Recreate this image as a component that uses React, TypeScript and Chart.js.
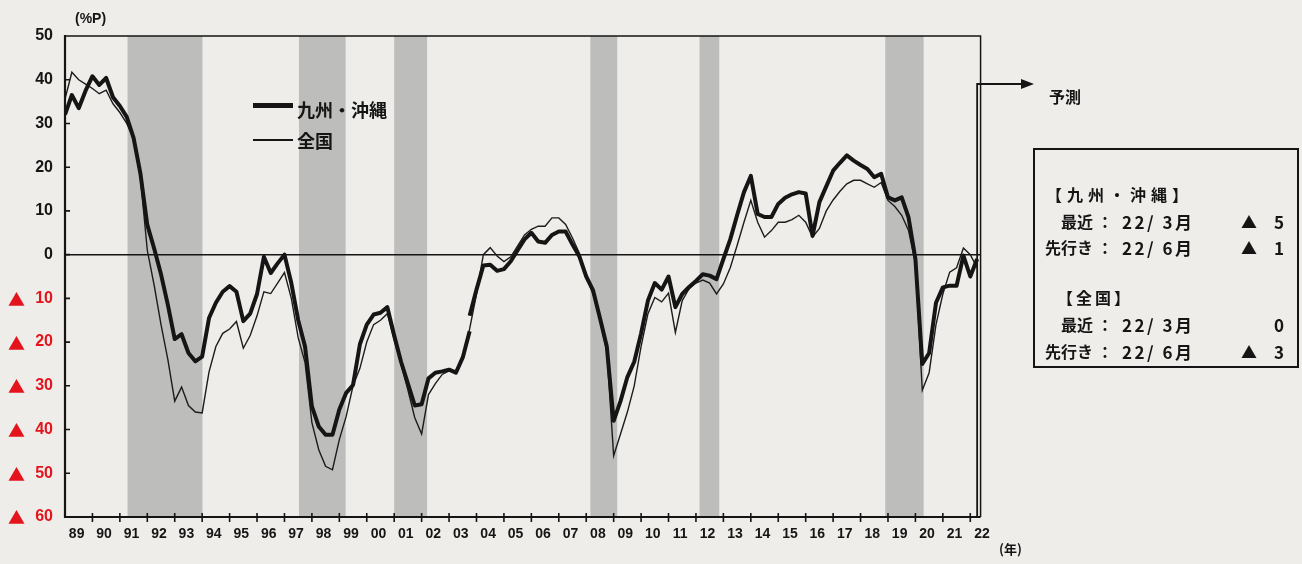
import React, { useEffect, useRef } from 'react';
import { Chart, registerables } from 'chart.js';

Chart.register(...registerables);

// ---- data (quarterly, 1989Q1 .. 2022Q2 forecast) ----
const yearLabels = [
  '89', '90', '91', '92', '93', '94', '95', '96', '97', '98', '99', '00',
  '01', '02', '03', '04', '05', '06', '07', '08', '09', '10', '11', '12',
  '13', '14', '15', '16', '17', '18', '19', '20', '21', '22',
];

// 九州・沖縄 (new basis from 2003Q4)
const kyushu = [
  32, 36.5, 33.5, 37.5,
  40.8, 38.8, 40.4, 36,
  34, 31.5, 26.7, 18.5,
  6.8, 1.4, -4.5, -11.5,
  -19.3, -18.2, -22.5, -24.4,
  -23.3, -14.5, -11, -8.5,
  -7.2, -8.5, -15.2, -13.5,
  -9, -0.5, -4.2, -2,
  0, -6.5, -15, -21,
  -34.7, -39.3, -41.2, -41.2,
  -35.4, -31.6, -29.8, -20.5,
  -16, -13.7, -13.3, -12,
  -18.5, -24.5, -29.5, -34.5,
  -34.2, -28.3, -27, -26.7,
  -26.3, -27, -23.5, -14,
  -8, -2.5, -2.3, -3.7,
  -3.3, -1.5, 1, 3.5,
  5, 3, 2.7, 4.5,
  5.3, 5.3, 2.3, -0.4,
  -5, -8.2, -14.5, -21,
  -38, -33.5, -28, -24.5,
  -18, -10.5, -6.5, -8,
  -5, -12, -9, -7.4,
  -6, -4.5, -4.8, -5.6,
  -1, 3.5, 9, 14.3,
  18, 9.3, 8.6, 8.6,
  11.6, 13, 13.8, 14.3,
  14, 4.3, 12, 15.6,
  19.2, 21, 22.7, 21.5,
  20.5, 19.6, 17.7, 18.5,
  13.1, 12.4, 13.1, 8.5,
  -1, -25, -22.5, -11,
  -7.5, -7.1, -7.1, -0.2,
  -5, -1,
];
const kyushuOldBasis2003Q4 = -17.5;
const basisBreakIndex = 59; // 2003Q4

// 全国
const zenkoku = [
  35.6, 41.7, 40, 39,
  38, 36.8, 37.6, 34.5,
  32.5, 30, 26.5, 17.5,
  1, -7, -16, -24,
  -33.5, -30.3, -34.5, -36,
  -36.2, -26.8, -21, -18,
  -17, -15.3, -21.4, -18.5,
  -14, -8.5, -8.9, -6.5,
  -4.1, -10, -19, -24.7,
  -38.4, -44.6, -48.4, -49.2,
  -42.3, -37, -30, -26,
  -20, -16, -15, -13.5,
  -19.5, -25, -31, -37.3,
  -41, -32, -29.5, -27.4,
  -26.6, -26.5, -23.5, -17,
  -9, 0, 1.6, -0.3,
  -1.6, -0.5, 2, 4.5,
  5.8, 6.5, 6.5, 8.4,
  8.4, 6.9, 3.8, 0.3,
  -5, -9, -15, -22,
  -46, -41, -36, -30,
  -21, -13.5, -9.8, -10.8,
  -8.8, -17.8, -10.5, -7.8,
  -6.5, -5.8, -6.5, -9,
  -6.7, -3, 2.1, 7.4,
  12.4, 7.4, 4, 5.5,
  7.4, 7.4, 8, 9,
  7.4, 4, 6, 10,
  12.5, 14.5, 16.2, 17,
  17, 16.2, 15.4, 16.5,
  12.4, 11, 9, 5.5,
  -2, -31, -27, -16,
  -9, -4, -3, 1.5,
  0, -3,
];

// recession periods (decimal years) shown as shaded bands
const recessions: [number, number][] = [
  [1991.28, 1994.01],
  [1997.53, 1999.23],
  [2001.0, 2002.2],
  [2008.15, 2009.13],
  [2012.13, 2012.85],
  [2018.9, 2020.3],
];

const forecastIndex = 133; // 2022Q2
const frameEnd = 133.5;

const boxSections = [
  {
    title: '【九州・沖縄】',
    rows: [
      { label: '最近', date: '22/ 3月', value: '▲5' },
      { label: '先行き', date: '22/ 6月', value: '▲1' },
    ],
  },
  {
    title: '【全国】',
    rows: [
      { label: '最近', date: '22/ 3月', value: '0' },
      { label: '先行き', date: '22/ 6月', value: '▲3' },
    ],
  },
];

const W = 1302;
const H = 564;
const BG = '#eeede9';
const BAND = '#bdbdbb';
const INK = '#151515';
const RED = '#e3141c';
const JP = "'Noto Sans CJK JP', 'Noto Sans', sans-serif";
const LAT = "'Liberation Sans', 'Noto Sans CJK JP', sans-serif";

const qx = (year: number) => (year - 1989) * 4;

const decor = {
  id: 'decor',
  beforeDatasetsDraw(chart: any) {
    const { ctx, chartArea: a, scales } = chart;
    const x = scales.x;
    const y = scales.y;
    const right = x.getPixelForValue(frameEnd);
    ctx.save();
    ctx.fillStyle = BAND;
    for (const [s, e] of recessions) {
      const x0 = x.getPixelForValue(qx(s));
      const x1 = x.getPixelForValue(qx(e));
      ctx.fillRect(x0, a.top, x1 - x0, a.bottom - a.top);
    }
    const y0 = y.getPixelForValue(0);
    ctx.strokeStyle = INK;
    ctx.lineWidth = 1.5;
    ctx.beginPath();
    ctx.moveTo(a.left, y0);
    ctx.lineTo(right, y0);
    ctx.stroke();
    ctx.restore();
  },
  afterDatasetsDraw(chart: any) {
    const { ctx, chartArea: a, scales } = chart;
    const x = scales.x;
    const y = scales.y;
    const right = x.getPixelForValue(frameEnd);
    ctx.save();
    ctx.strokeStyle = INK;
    // top and right frame
    ctx.lineWidth = 1.5;
    ctx.beginPath();
    ctx.moveTo(a.left, a.top);
    ctx.lineTo(right, a.top);
    ctx.lineTo(right, a.bottom);
    ctx.stroke();
    // axes
    ctx.lineWidth = 2.2;
    ctx.beginPath();
    ctx.moveTo(a.left, a.top - 1);
    ctx.lineTo(a.left, a.bottom);
    ctx.lineTo(right, a.bottom);
    ctx.stroke();
    // x year ticks
    ctx.lineWidth = 1.6;
    ctx.beginPath();
    for (let i = 1; i < yearLabels.length; i++) {
      const px = x.getPixelForValue(i * 4);
      ctx.moveTo(px, a.bottom - 4);
      ctx.lineTo(px, a.bottom + 5);
    }
    // y inward ticks
    for (let v = -50; v <= 40; v += 10) {
      const py = y.getPixelForValue(v);
      ctx.moveTo(a.left, py);
      ctx.lineTo(a.left + 5, py);
    }
    ctx.stroke();
    // forecast marker
    const fx = x.getPixelForValue(forecastIndex);
    const ay = a.top + 48;
    ctx.lineWidth = 1.8;
    ctx.beginPath();
    ctx.moveTo(fx, a.bottom);
    ctx.lineTo(fx, ay);
    ctx.lineTo(1022, ay);
    ctx.stroke();
    ctx.fillStyle = INK;
    ctx.beginPath();
    ctx.moveTo(1034, ay);
    ctx.lineTo(1021, ay - 5);
    ctx.lineTo(1021, ay + 5);
    ctx.closePath();
    ctx.fill();
    // "▲" marks for negative y tick labels
    ctx.fillStyle = RED;
    ctx.font = "bold 17px 'Noto Sans CJK JP', 'DejaVu Sans', sans-serif";
    ctx.textAlign = 'left';
    ctx.textBaseline = 'middle';
    for (const t of y.ticks) {
      if (t.value < 0) {
        ctx.fillText('▲', 8, y.getPixelForValue(t.value) + 1);
      }
    }
    ctx.restore();
  },
};

type TP = {
  x: number;
  y: number;
  size?: number;
  align?: 'left' | 'right';
  family?: string;
  ls?: number;
  children: React.ReactNode;
};

const T = ({ x, y, size = 16, align = 'left', family = JP, ls = 0, children }: TP) => (
  <div
    style={{
      position: 'absolute',
      top: y - size * 0.6,
      left: align === 'left' ? x : undefined,
      right: align === 'right' ? W - x : undefined,
      fontSize: size,
      lineHeight: `${size * 1.2}px`,
      fontWeight: 700,
      fontFamily: family,
      color: INK,
      whiteSpace: 'pre',
      letterSpacing: ls,
    }}
  >
    {children}
  </div>
);

export default function App() {
  const ref = useRef<HTMLCanvasElement | null>(null);

  useEffect(() => {
    if (!ref.current) return;
    const oldBasis = kyushu
      .slice(0, basisBreakIndex)
      .map((v, i) => ({ x: i, y: v }))
      .concat([{ x: basisBreakIndex, y: kyushuOldBasis2003Q4 }]);
    const newBasis = kyushu
      .map((v, i) => ({ x: i, y: v }))
      .filter((p) => p.x >= basisBreakIndex);
    const nat = zenkoku.map((v, i) => ({ x: i, y: v }));

    const thick = {
      borderColor: INK,
      borderWidth: 4,
      pointRadius: 0,
      tension: 0,
      borderJoinStyle: 'round' as const,
      fill: false,
    };

    const chart = new Chart(ref.current, {
      type: 'line',
      data: {
        datasets: [
          { label: '九州・沖縄', data: newBasis, ...thick },
          { label: '九州・沖縄(旧)', data: oldBasis, ...thick },
          {
            label: '全国',
            data: nat,
            borderColor: '#1c1c1c',
            borderWidth: 1.4,
            pointRadius: 0,
            tension: 0,
            fill: false,
          },
        ],
      },
      options: {
        animation: false,
        responsive: false,
        devicePixelRatio: 1,
        layout: { padding: { left: 0, right: 318, top: 36, bottom: 0 } },
        plugins: { legend: { display: false }, tooltip: { enabled: false } },
        scales: {
          x: {
            type: 'linear',
            min: 0,
            max: 134,
            afterFit: (s: any) => {
              s.height = 47;
            },
            afterBuildTicks: (s: any) => {
              s.ticks = yearLabels.map((_, i) => ({ value: i * 4 + 1.7 }));
            },
            ticks: {
              autoSkip: false,
              maxRotation: 0,
              minRotation: 0,
              padding: 9,
              color: INK,
              font: { family: LAT, size: 14, weight: 'bold' },
              callback: (v: any) => yearLabels[Math.round((Number(v) - 1.7) / 4)] ?? '',
            },
            grid: { display: false, drawTicks: false },
            border: { display: false },
          },
          y: {
            min: -60,
            max: 50,
            afterFit: (s: any) => {
              s.width = 65;
            },
            ticks: {
              stepSize: 10,
              padding: 12,
              color: (c: any) => (c.tick && c.tick.value < 0 ? RED : INK),
              font: { family: LAT, size: 16, weight: 'bold' },
              callback: (v: any) => `${Math.abs(Number(v))}`,
            },
            grid: { display: false, drawTicks: false },
            border: { display: false },
          },
        },
      },
      plugins: [decor],
    } as any);
    return () => chart.destroy();
  }, []);

  const rowYs = [[195, 222, 248], [298, 325, 352]];

  return (
    <div
      style={{
        position: 'absolute',
        left: 0,
        top: 0,
        width: W,
        height: H,
        background: BG,
        overflow: 'hidden',
      }}
    >
      <canvas ref={ref} width={W} height={H} style={{ position: 'absolute', left: 0, top: 0, width: W, height: H }} />

      <T x={75} y={18} size={14} family={LAT}>(%P)</T>
      <T x={999} y={549} size={13}>(年)</T>

      {/* legend */}
      <div style={{ position: 'absolute', left: 253, top: 103, width: 40, height: 5, background: INK }} />
      <T x={297} y={110} size={18}>九州・沖縄</T>
      <div style={{ position: 'absolute', left: 253, top: 139, width: 40, height: 1.5, background: INK }} />
      <T x={297} y={141} size={18}>全国</T>

      <T x={1049} y={97} size={16}>予測</T>

      <div
        style={{
          position: 'absolute',
          left: 1033,
          top: 148,
          width: 262,
          height: 216,
          border: `2px solid ${INK}`,
        }}
      />
      {boxSections.map((sec, si) => (
        <React.Fragment key={sec.title}>
          <T x={si === 0 ? 1046 : 1057} y={rowYs[si][0]} size={16} ls={si === 0 ? 5 : 3}>
            {sec.title}
          </T>
          {sec.rows.map((r, ri) => {
            const yy = rowYs[si][ri + 1];
            const tri = r.value.startsWith('▲');
            const num = tri ? r.value.slice(1) : r.value;
            return (
              <React.Fragment key={r.label}>
                <T x={1093} y={yy} size={16} align="right">{r.label}</T>
                <T x={1097} y={yy} size={16}>：</T>
                <T x={1122} y={yy} size={17} ls={2.5}>{r.date}</T>
                {tri && <T x={1241} y={yy} size={16}>▲</T>}
                <T x={1284} y={yy} size={17} align="right">{num}</T>
              </React.Fragment>
            );
          })}
        </React.Fragment>
      ))}
    </div>
  );
}
